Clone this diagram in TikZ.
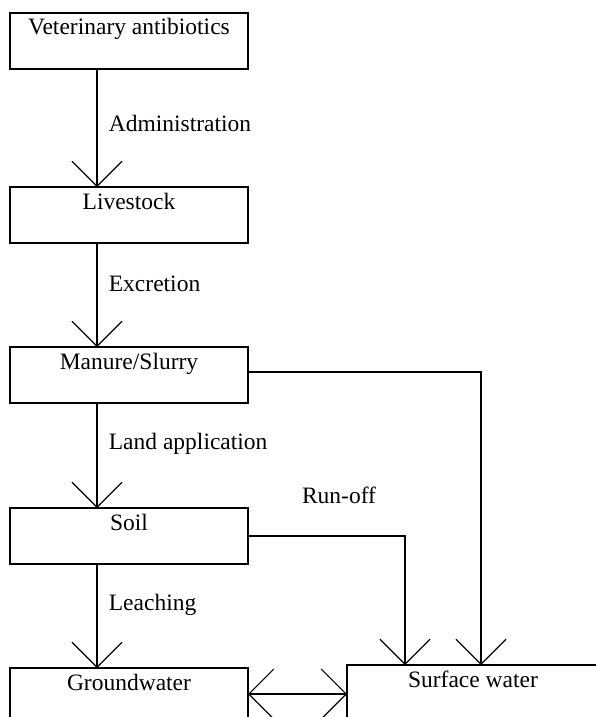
\documentclass[tikz,border=0pt]{standalone}
\usepackage{fontspec}
\setmainfont{Liberation Serif}
\usetikzlibrary{arrows.meta,positioning}

\begin{document}
\begin{tikzpicture}[x=1pt,y=-1pt,line width=1.1pt,
  >={Straight Barb[length=25pt,width=50pt]},
  box/.style={draw,rectangle,minimum width=238pt,inner xsep=0pt,inner ysep=0pt,outer sep=0pt,
    text height=22pt,text depth=34pt,font=\fontsize{23.5}{28}\selectfont},
  flowlabel/.style={right=8pt,font=\fontsize{23.5}{28}\selectfont}]
  % page
  \useasboundingbox (0,0) rectangle (596,717);
  \clip (0,0) rectangle (596,717);

  % boxes
  \node[box,anchor=north west] (vet) at (10,13) {Veterinary antibiotics};
  \node[box,below=118pt of vet] (live) {Livestock};
  \node[box,below=104pt of live] (manure) {Manure/Slurry};
  \node[box,below=105pt of manure] (soil) {Soil};
  \node[box,below=104pt of soil] (ground) {Groundwater};
  \node[box,minimum width=252pt,anchor=north west] (surf) at (347,665) {Surface water};

  % main chain
  \draw[->] ([xshift=-32pt]vet.south) -- node[flowlabel,pos=.46] {Administration} ([xshift=-32pt]live.north);
  \draw[->] ([xshift=-32pt]live.south) -- node[flowlabel,pos=.39] {Excretion} ([xshift=-32pt]manure.north);
  \draw[->] ([xshift=-32pt]manure.south) -- node[flowlabel,pos=.39] {Land application} ([xshift=-32pt]soil.north);
  \draw[->] ([xshift=-32pt]soil.south) -- node[flowlabel,pos=.39] {Leaching} ([xshift=-32pt]ground.north);

  % to surface water
  \draw[->] ([yshift=3pt]manure.east) -| ([xshift=8pt]surf.north);
  \draw[->] (soil.east) -| node[pos=.29,yshift=41pt,font=\fontsize{23.5}{28}\selectfont] {Run-off} ([xshift=-68pt]surf.north);
  \draw[<->] ([yshift=2pt]ground.east) -- ([yshift=2pt]ground.east -| surf.west);
\end{tikzpicture}
\end{document}
